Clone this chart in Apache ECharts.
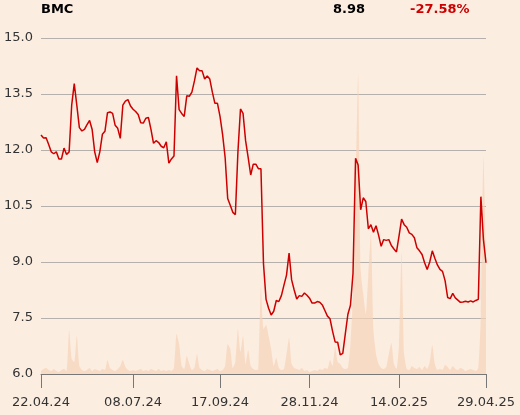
<!DOCTYPE html>
<html>
<head>
<meta charset="utf-8">
<script src="https://cdn.jsdelivr.net/npm/echarts@6/dist/echarts.min.js"></script>
<style>
  html, body { margin: 0; padding: 0; background: #fcede1; }
  #chart { width: 520px; height: 415px; }
</style>
</head>
<body>
<div id="chart"></div>
<script>
// closing price, one point every ~2 trading days
const price = [
  12.40, 12.32, 12.33, 12.15, 11.95, 11.90, 11.95, 11.76, 11.76, 12.05,
  11.88, 11.95, 13.20, 13.78, 13.20, 12.60, 12.51, 12.55, 12.68, 12.79,
  12.55, 11.95, 11.66, 11.95, 12.42, 12.50, 13.00, 13.02, 12.98, 12.66,
  12.58, 12.31, 13.20, 13.31, 13.35, 13.18, 13.09, 13.03, 12.95, 12.73,
  12.72, 12.85, 12.87, 12.55, 12.18, 12.25, 12.20, 12.10, 12.06, 12.22,
  11.65, 11.76, 11.84, 13.99, 13.08, 12.98, 12.90, 13.45, 13.44, 13.55,
  13.85, 14.20, 14.12, 14.12, 13.90, 13.98, 13.90, 13.55, 13.25, 13.25,
  12.90, 12.42, 11.80, 10.70, 10.52, 10.33, 10.27, 11.95, 13.10, 12.98,
  12.25, 11.80, 11.33, 11.62, 11.62, 11.50, 11.50, 8.95, 8.00, 7.76,
  7.58, 7.68, 7.97, 7.94, 8.10, 8.38, 8.65, 9.24, 8.52, 8.25,
  8.01, 8.10, 8.08, 8.17, 8.11, 8.03, 7.90, 7.90, 7.94, 7.92,
  7.85, 7.70, 7.55, 7.48, 7.15, 6.86, 6.85, 6.51, 6.55, 7.08,
  7.60, 7.84, 8.70, 11.78, 11.60, 10.40, 10.72, 10.62, 9.89, 10.00,
  9.80, 9.97, 9.72, 9.42, 9.60, 9.58, 9.60, 9.44, 9.35, 9.27,
  9.70, 10.15, 10.00, 9.93, 9.78, 9.74, 9.65, 9.38, 9.30, 9.20,
  8.98, 8.80, 9.00, 9.30, 9.10, 8.92, 8.80, 8.75, 8.50, 8.05,
  8.02, 8.16, 8.04, 7.98, 7.92, 7.93, 7.95, 7.93, 7.96, 7.93,
  7.97, 8.00, 10.75, 9.60, 8.98
];

// traded volume, thousands of shares
const volume = [
  30, 50, 60, 40, 30, 50, 30, 20, 40, 50,
  30, 440, 150, 120, 380, 80, 40, 30, 40, 60,
  30, 50, 40, 30, 50, 40, 140, 60, 40, 30,
  50, 80, 140, 70, 40, 30, 40, 30, 40, 50,
  30, 40, 30, 50, 40, 30, 50, 30, 40, 30,
  40, 30, 60, 400, 300, 80, 50, 180, 100, 40,
  60, 200, 60, 40, 30, 50, 40, 30, 40, 50,
  30, 40, 80, 300, 250, 60, 120, 450, 220, 380,
  100, 240, 80, 50, 40, 50, 870, 450, 490, 380,
  250, 80, 160, 60, 40, 50, 200, 360, 100, 60,
  50, 40, 60, 30, 40, 20, 30, 40, 30, 50,
  40, 60, 50, 140, 80, 270, 120, 100, 60, 50,
  60, 300, 800, 1800, 3000, 1040, 800, 600, 1000, 1400,
  440, 200, 100, 60, 50, 70, 200, 310, 100, 50,
  300, 1210, 200, 50, 40, 80, 60, 50, 70, 40,
  80, 50, 120, 290, 100, 40, 50, 40, 90, 70,
  40, 80, 50, 40, 60, 50, 30, 40, 50, 40,
  30, 60, 600, 2170, 1200
];

const tickIdx = [0, 36, 70, 105, 140, 174];
const tickLabels = ['22.04.24', '08.07.24', '17.09.24', '28.11.24', '14.02.25', '29.04.25'];

const categories = price.map(function (v, i) {
  const k = tickIdx.indexOf(i);
  return k >= 0 ? tickLabels[k] : '';
});
const isTick = function (i) { return tickIdx.indexOf(i) >= 0; };

const font = 'DejaVu Sans';
const chart = echarts.init(document.getElementById('chart'), null, { renderer: 'canvas' });

chart.setOption({
  backgroundColor: '#fcede1',
  animation: false,
  textStyle: { fontFamily: font },
  grid: { left: 41, right: 34, top: 38, bottom: 41 },
  graphic: [
    { type: 'text', left: 41, top: 3, style: { text: 'BMC', font: 'bold 13px "DejaVu Sans"', fill: '#000' } },
    { type: 'text', left: 333, top: 3, style: { text: '8.98', font: 'bold 13px "DejaVu Sans"', fill: '#000' } },
    { type: 'text', left: 410, top: 3, style: { text: '-27.58%', font: 'bold 13px "DejaVu Sans"', fill: '#cc0000' } }
  ],
  xAxis: {
    type: 'category',
    data: categories,
    boundaryGap: false,
    axisLine: { lineStyle: { color: '#777', width: 1 } },
    axisTick: { interval: isTick, length: 14, lineStyle: { color: '#777' } },
    axisLabel: { interval: isTick, color: '#333', fontSize: 13, fontFamily: font, margin: 22 },
    splitLine: { show: false }
  },
  yAxis: [
    {
      type: 'value',
      min: 6,
      max: 15,
      interval: 1.5,
      axisLine: { show: false },
      axisTick: { show: false },
      axisLabel: {
        color: '#333', fontSize: 13, fontFamily: font, margin: 8,
        formatter: function (v) { return v.toFixed(1); }
      },
      splitLine: { lineStyle: { color: '#b5b0ab', width: 1 } }
    },
    {
      type: 'value',
      min: 0,
      max: 3360,
      show: false,
      splitLine: { show: false }
    }
  ],
  series: [
    {
      name: 'Volume',
      type: 'line',
      yAxisIndex: 1,
      data: volume,
      symbol: 'none',
      smooth: 0.2,
      lineStyle: { width: 0 },
      areaStyle: { color: '#f6d3b8', opacity: 0.7 },
      z: 1
    },
    {
      name: 'BMC',
      type: 'line',
      data: price,
      symbol: 'none',
      lineStyle: { color: '#cc0000', width: 1.5 },
      z: 3
    }
  ]
});
</script>
</body>
</html>
